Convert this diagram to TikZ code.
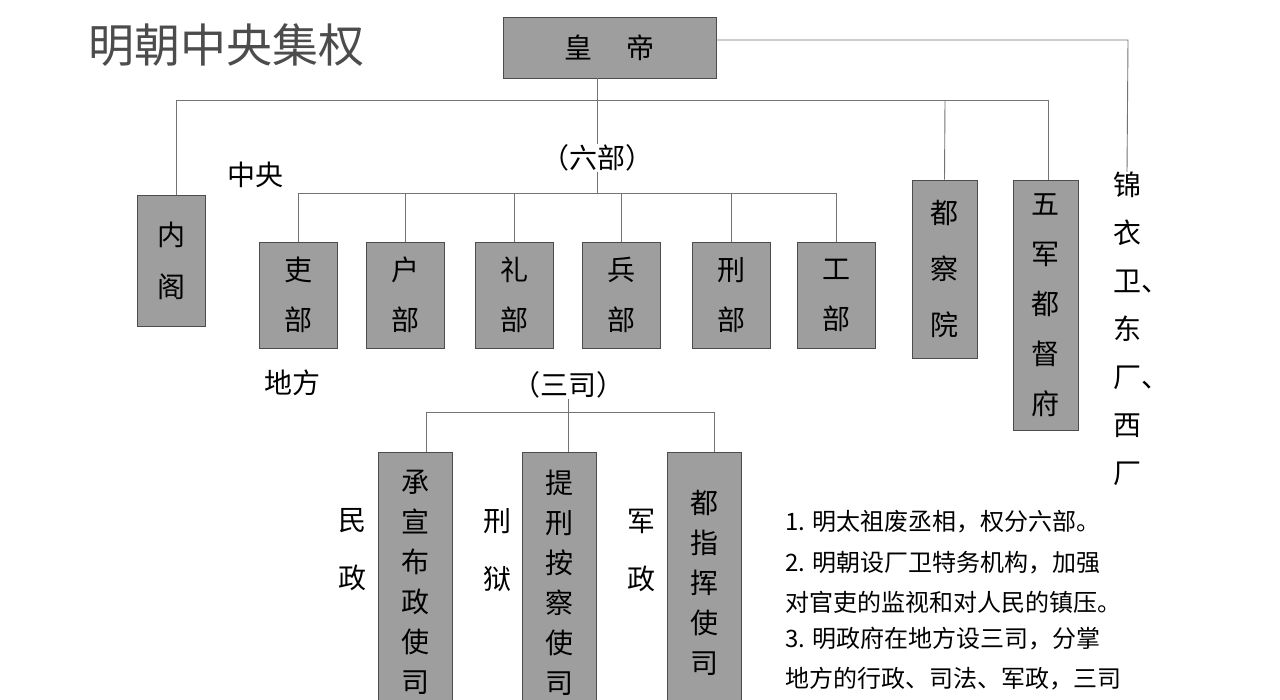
\documentclass[tikz,border=0pt]{standalone}
\usepackage{fontspec}
\newfontfamily\cjk{Noto Sans CJK SC}
\begin{document}
\begin{tikzpicture}[x=1pt,y=-1pt,
  box/.style={draw=black!70,fill=black!38,line width=0.8pt,inner sep=0pt,font=\cjk\fontsize{28}{34}\selectfont,align=center},
  ln/.style={draw=black!55,line width=0.9pt},
  lab/.style={font=\cjk\fontsize{28}{34}\selectfont,align=center,inner sep=0pt},
  note/.style={font=\cjk\fontsize{24}{28}\selectfont,anchor=west,inner sep=0pt}]
\fill[white] (0,0) rectangle (1280,700);
\clip (0,0) rectangle (1280,700);
\node[font=\cjk\fontsize{46}{52}\selectfont,text=black!70,anchor=west,inner sep=0pt] (title) at (88,45) {明朝中央集权};
% emperor
\node[box,minimum width=213pt,minimum height=61pt] (emp) at (609.5,47.5) {皇\hspace{1.2em}帝};
\coordinate (bus) at (597,100);
\node[box,minimum width=68pt,minimum height=131pt,font=\cjk\fontsize{28}{52}\selectfont] (neige) at (171,260.5) {内\\阁};
\node[box,minimum width=65pt,minimum height=178pt,font=\cjk\fontsize{28}{56}\selectfont] (dcy) at (944.5,269) {都\\察\\院};
\node[box,minimum width=65pt,minimum height=250pt,font=\cjk\fontsize{28}{50}\selectfont] (wj) at (1045.5,305) {五\\军\\都\\督\\府};
\node[lab,font=\cjk\fontsize{28}{48}\selectfont,anchor=north] (jyw) at (1127,172) {锦\\衣\\卫\rlap{、}\\东\\厂\rlap{、}\\西\\厂};
\draw[ln] (emp.south -| bus) -- (bus);
\draw[ln] (176,100) -- (1048,100);
\draw[ln] (176,100) -- (neige.north -| 176,0);
\draw[ln] (945,100) -- (dcy.north);
\draw[ln] (1048,100) -- (1048,180);
\draw[ln] (emp.east |- 0,40) -- (1128,40) -- (jyw.north);
% six ministries
\node[lab] (lbl6) at (597,158) {（六部）};
\node[lab] (zy) at (255,175) {中央};
\draw[ln] (597,100) -- (lbl6.north);
\draw[ln] (lbl6.south) -- (597,193);
\draw[ln] (298,193) -- (836,193);
\foreach \n/\c/\t in {a/298/吏,b/405/户,c/514/礼,d/621/兵,e/731/刑,f/836/工}{
  \node[box,minimum width=78pt,minimum height=106pt,font=\cjk\fontsize{28}{50}\selectfont] (m\n) at (\c,295) {\t\\部};
  \draw[ln] (\c,193) -- (m\n.north);
}
% local
\node[lab] (df) at (292,383) {地方};
\node[lab] (lbl3) at (568,385) {（三司）};
\draw[ln] (lbl3.south) -- (568,412);
\draw[ln] (426,412) -- (714,412);
\foreach \n/\c/\t/\s/\sx in {p/415/承\\宣\\布\\政\\使\\司/民\\政/352,q/559.5/提\\刑\\按\\察\\使\\司/刑\\狱/497,r/704/都\\指\\挥\\使\\司/军\\政/641}{
  \node[box,minimum width=74pt,minimum height=260pt,anchor=north,font=\cjk\fontsize{28}{40}\selectfont] (s\n) at (\c,452) {\t};
  \node[lab,font=\cjk\fontsize{28}{58}\selectfont] (t\n) at (\sx,550) {\s};
}
\draw[ln] (426,412) -- (426,452);
\draw[ln] (568,412) -- (568,452);
\draw[ln] (714,412) -- (714,452);
% notes
\node[note] (n1) at (785,522) {1. 明太祖废丞相，权分六部。};
\node[note] (n2) at (785,563) {2. 明朝设厂卫特务机构，加强};
\node[note] (n3) at (785,602) {对官吏的监视和对人民的镇压。};
\node[note] (n4) at (785,639) {3. 明政府在地方设三司，分掌};
\node[note] (n5) at (785,679) {地方的行政、司法、军政，三司};
\end{tikzpicture}
\end{document}
